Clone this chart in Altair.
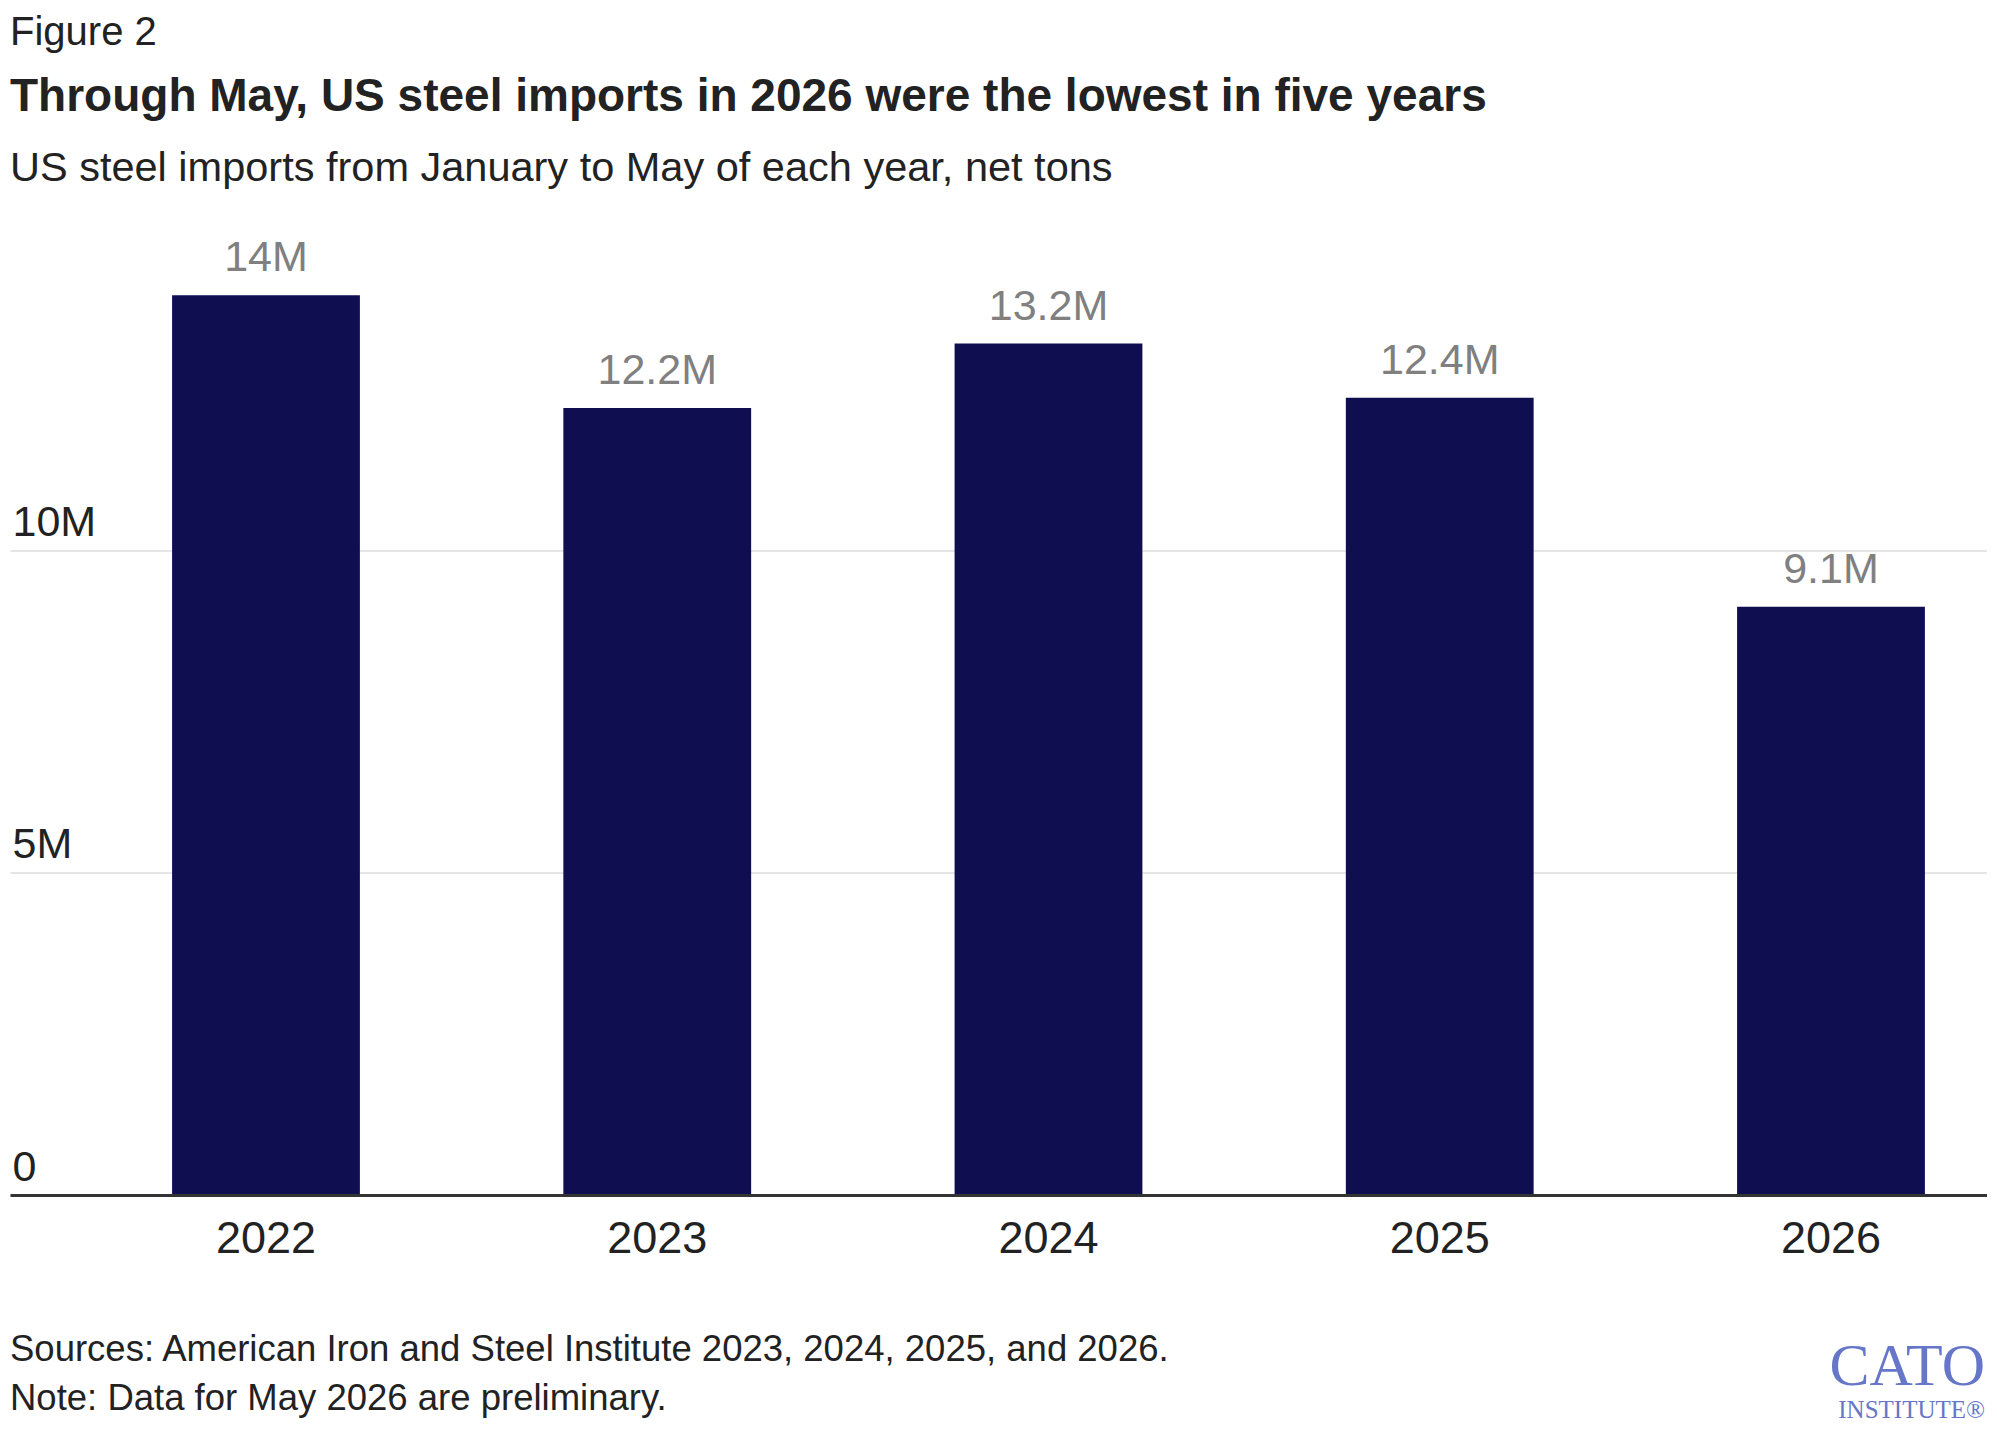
import altair as alt
import pandas as pd

years = ["2022", "2023", "2024", "2025", "2026"]
imports = [13.95e6, 12.2e6, 13.2e6, 12.36e6, 9.12e6]
labels = ["14M", "12.2M", "13.2M", "12.4M", "9.1M"]
y_ticks = [0, 5e6, 10e6]

fig_label = "Figure 2"
title = "Through May, US steel imports in 2026 were the lowest in five years"
subtitle = "US steel imports from January to May of each year, net tons"
source = "Sources: American Iron and Steel Institute 2023, 2024, 2025, and 2026."
note = "Note: Data for May 2026 are preliminary."

df = pd.DataFrame({"year": years, "imports": imports, "label": labels})

FONT = "Liberation Sans, Arial, sans-serif"
SERIF = "Liberation Serif, Times New Roman, serif"
BAR = "#0e0e50"

base = alt.Chart(df).encode(
    x=alt.X(
        "year:N",
        sort=years,
        scale=alt.Scale(paddingInner=0.52, paddingOuter=0.2865, align=0.723),
        axis=alt.Axis(
            title=None, labelAngle=0, ticks=False, tickSize=0, grid=False,
            domainColor="#333333", domainWidth=3, labelFontSize=45,
            labelColor="#222222", labelFont=FONT, labelBaseline="alphabetic",
            labelPadding=57, zindex=1,
        ),
    ),
    y=alt.Y(
        "imports:Q",
        scale=alt.Scale(domain=[0, 15e6], nice=False),
        axis=alt.Axis(
            title=None, values=y_ticks,
            labelExpr="datum.value == 0 ? '0' : format(datum.value, '~s')",
            domain=False, ticks=False, tickSize=0, labelAlign="left",
            labelBaseline="alphabetic", labelPadding=-2, labelOffset=-15,
            labelFontSize=43, labelColor="#222222", labelFont=FONT,
            gridColor="#e6e6e6", gridWidth=2,
        ),
    ),
)

bars = base.mark_bar(color=BAR)
values = base.mark_text(
    dy=-24, baseline="alphabetic", fontSize=43, color="#808080", font=FONT
).encode(text="label:N")


def annot(txt, x, y, size, weight="normal", color="#222222", align="left",
          font=FONT):
    return alt.Chart(pd.DataFrame({"t": [txt]})).mark_text(
        align=align, baseline="alphabetic", fontSize=size, fontWeight=weight,
        color=color, font=font,
    ).encode(x=alt.value(x), y=alt.value(y), text="t:N")


layers = [
    bars,
    values,
    annot(fig_label, 0, -183, 40),
    annot(title, 0, -117, 46, weight="bold"),
    annot(subtitle, 0, -47, 41.5),
    annot(source, 0, 1133.5, 36.5),
    annot(note, 0, 1182.5, 36.5),
    annot("CATO", 1975, 1157, 60, color="#6676c8", align="right", font=SERIF),
    annot("INSTITUTE\u00ae", 1975, 1190, 25, color="#6676c8", align="right",
          font=SERIF),
]

chart = alt.layer(*layers).properties(
    width=1977,
    height=967.5,
    autosize=alt.AutoSizeParams(type="none"),
    padding={"left": 2, "top": 219.5, "right": 0, "bottom": 230},
    background="white",
).configure_view(stroke=None)

chart.save("out.html", embed_options={"renderer": "svg", "actions": False})
